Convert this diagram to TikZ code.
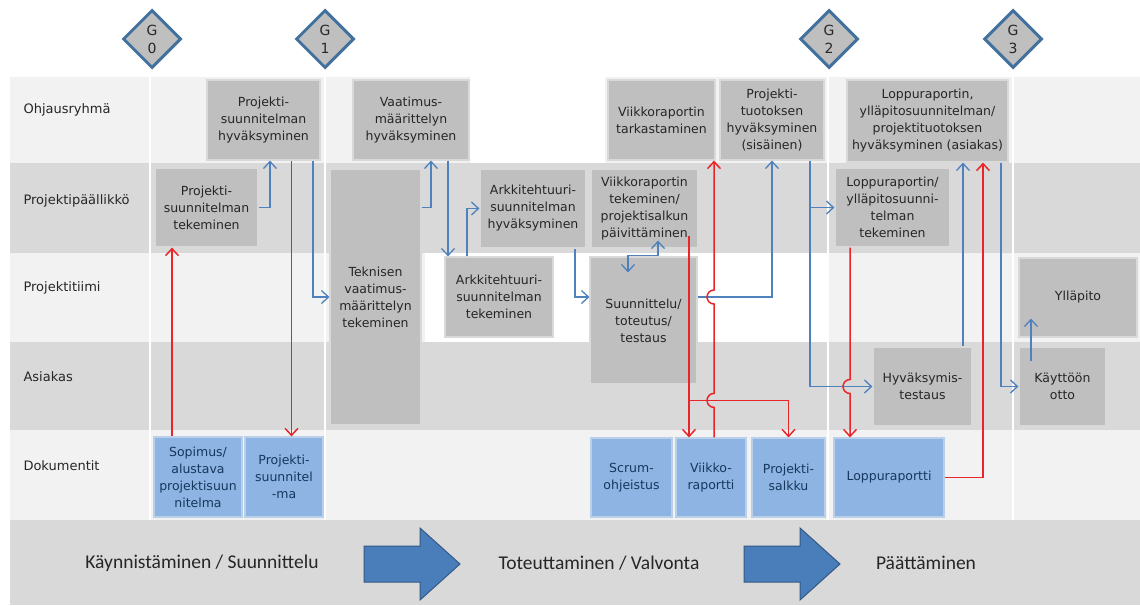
\documentclass[tikz,border=0pt]{standalone}
\usepackage{fontspec}
\setmainfont{DejaVu Sans}
\newfontfamily\phasefont{Carlito}
\usetikzlibrary{positioning,arrows.meta,calc,shapes.geometric}
\definecolor{lanelight}{HTML}{F2F2F2}
\definecolor{lanedark}{HTML}{D9D9D9}
\definecolor{taskgray}{HTML}{BFBFBF}
\definecolor{docblue}{HTML}{8DB4E2}
\definecolor{docink}{HTML}{17375E}
\definecolor{gateblue}{HTML}{41719C}
\definecolor{flowblue}{HTML}{4F81BD}
\definecolor{flowred}{HTML}{E8262A}
\definecolor{phaseblue}{HTML}{4A7EBB}
\definecolor{ink}{HTML}{262626}
\tikzset{
  task/.style={fill=taskgray,draw=taskgray!60!white,line width=1.2pt,inner sep=1pt,align=center,text=ink,font=\fontsize{12.5}{17}\selectfont},
  docbox/.style={task,fill=docblue,draw=docblue!55!lanelight,text=docink},
  gate/.style={diamond,fill=taskgray,draw=gateblue,line width=3pt,minimum size=58pt,inner sep=0pt,align=center,font=\fontsize{14}{18}\selectfont,text=ink},
  lanelabel/.style={anchor=west,text=ink,font=\fontsize{13}{15}\selectfont},
  flowb/.style={draw=flowblue,line width=1.3pt,-{Straight Barb[length=7pt,width=13pt]}},
  flowboth/.style={flowb,{Straight Barb[length=7pt,width=13pt]}-{Straight Barb[length=7pt,width=13pt]}},
  flowr/.style={draw=flowred,line width=1.5pt,-{Straight Barb[length=7pt,width=13pt]}},
  phasearrow/.style={fill=phaseblue,draw=phaseblue!70!black,line width=1pt},
  phaselabel/.style={font=\phasefont\fontsize{19.5}{22}\selectfont,text=ink}
}

\begin{document}
\begin{tikzpicture}[x=1pt,y=1pt]
\useasboundingbox (0,0) rectangle (1140,-605);
% lanes
\fill[lanelight] (10,-77) rectangle (1140,-163);
\fill[lanedark] (10,-163) rectangle (1140,-253);
\fill[lanelight] (10,-253) rectangle (1140,-342);
\fill[lanedark] (10,-342) rectangle (1140,-430);
\fill[lanelight] (10,-430) rectangle (1140,-520);
\fill[lanedark] (10,-520) rectangle (1140,-605);
\fill[white] (470,-77) rectangle (605,-163);
\fill[white] (425,-253) rectangle (828,-342);
\foreach \x in {150,325,828,1013}
  \draw[white,line width=2pt] (\x,-77) -- (\x,-520);

\node[lanelabel] (lohj) at (20,-110) {Ohjausryhmä};
\node[lanelabel] (lpp) at (20,-201) {Projektipäällikkö};
\node[lanelabel] (ltiimi) at (20,-288) {Projektitiimi};
\node[lanelabel] (lasiakas) at (20,-377) {Asiakas};
\node[lanelabel] (ldok) at (20,-466) {Dokumentit};

% gates
\node[gate] (g0) at (152,-39) {G\\0};
\node[gate] (g1) at (325,-39) {G\\1};
\node[gate] (g2) at (829,-39) {G\\2};
\node[gate] (g3) at (1013,-39) {G\\3};

% Ohjausryhma
\node[task,minimum width=113pt,minimum height=80pt] (phyv) at (263.5,-120) {Projekti-\\suunnitelman\\hyväksyminen};
\node[task,minimum width=116pt,minimum height=80pt] (vhyv) at (411,-120) {Vaatimus-\\määrittelyn\\hyväksyminen};
\node[task,minimum width=107pt,minimum height=80pt] (vtark) at (661.5,-120) {Viikkoraportin\\tarkastaminen};
\node[task,minimum width=104pt,minimum height=80pt] (pthyv) at (772,-120) {Projekti-\\tuotoksen\\hyväksyminen\\(sisäinen)};
\node[task,minimum width=161pt,minimum height=82pt] (lhyv) at (927.5,-121) {Loppuraportin,\\ylläpitosuunnitelman/\\projektituotoksen\\hyväksyminen (asiakas)};

% Projektipaallikko
\node[task,minimum width=103pt,minimum height=79pt] (ptek) at (206.5,-207.5) {Projekti-\\suunnitelman\\tekeminen};
\node[task,minimum width=106pt,minimum height=79pt] (ahyv) at (533,-208.5) {Arkkitehtuuri-\\suunnitelman\\hyväksyminen};
\node[task,minimum width=107pt,minimum height=79pt] (vtek) at (644.5,-208.5) {Viikkoraportin\\tekeminen/\\projektisalkun\\päivittäminen};
\node[task,minimum width=115pt,minimum height=79pt] (ltek) at (892.5,-207.5) {Loppuraportin/\\ylläpitosuunni-\\telman\\tekeminen};
\node[task,minimum width=91pt,minimum height=256pt] (tvm) at (375.5,-297) {Teknisen\\vaatimus-\\määrittelyn\\tekeminen};

% Projektitiimi
\node[task,minimum width=108pt,minimum height=80pt] (atek) at (499,-297) {Arkkitehtuuri-\\suunnitelman\\tekeminen};
\node[task,minimum width=107pt,minimum height=127pt] (stt) at (643.5,-320.5) {Suunnittelu/\\toteutus/\\testaus};
\node[task,minimum width=118pt,minimum height=79pt] (yp) at (1078,-297.5) {Ylläpito};

% Asiakas
\node[task,minimum width=99pt,minimum height=79pt] (htest) at (922.5,-386.5) {Hyväksymis-\\testaus};
\node[task,minimum width=87pt,minimum height=79pt] (kotto) at (1062.5,-386.5) {Käyttöön\\otto};

% Dokumentit
\node[docbox,minimum width=88pt,minimum height=80pt] (sop) at (198,-477) {Sopimus/\\alustava\\projektisuun\\nitelma};
\node[docbox,minimum width=78pt,minimum height=80pt] (psd) at (284,-477) {Projekti-\\suunnitel\\-ma};
\node[docbox,minimum width=81pt,minimum height=79pt] (scrum) at (631.5,-477.5) {Scrum-\\ohjeistus};
\node[docbox,minimum width=70pt,minimum height=79pt] (vrap) at (711,-477.5) {Viikko-\\raportti};
\node[docbox,minimum width=73pt,minimum height=79pt] (psalk) at (788.5,-477.5) {Projekti-\\salkku};
\node[docbox,minimum width=110pt,minimum height=79pt] (lrap) at (889,-477.5) {Loppuraportti};

% phases
\filldraw[phasearrow] (364,-546) -- (420,-546) -- (420,-528) -- (460,-564) -- (420,-600) -- (420,-582) -- (364,-582) -- cycle;
\filldraw[phasearrow] (744,-546) -- (800,-546) -- (800,-528) -- (840,-564) -- (800,-600) -- (800,-582) -- (744,-582) -- cycle;
\node[phaselabel] (ph1) at (202,-563) {Käynnistäminen / Suunnittelu};
\node[phaselabel] (ph2) at (599,-563) {Toteuttaminen / Valvonta};
\node[phaselabel] (ph3) at (926,-563) {Päättäminen};

% blue flows
\draw[flowb] (ptek.east) -| ([xshift=6.5pt]phyv.south);
\draw[flowb] ([xshift=49.5pt]phyv.south) |- (tvm.west);
\draw[flowb] (tvm.east |- ptek.east) -| ([xshift=20pt]vhyv.south);
\draw[flowb] ([xshift=37pt]vhyv.south) -- ([xshift=37pt]vhyv.south |- atek.north);
\draw[flowb] ([xshift=-32pt]atek.north) |- (ahyv.west);
\draw[flowb] ([xshift=42pt]ahyv.south) |- (stt.west |- atek.east);
\draw[flowboth] ([xshift=13.5pt,yshift=8pt]vtek.south) -- ++(0,-15) -| ([xshift=-15.5pt,yshift=-16pt]stt.north);
\draw[flowb] (stt.east |- atek.east) -| (pthyv.south);
\draw[flowb] ([xshift=38pt]pthyv.south) |- (htest.west);
\draw[flowb] ([xshift=38pt]pthyv.south |- ltek.west) -- (ltek.west);
\draw[flowb] ([xshift=40.5pt]htest.north) -- ([xshift=40.5pt]htest.north |- lhyv.south);
\draw[flowb] ([xshift=73.5pt]lhyv.south) |- (kotto.west);
\draw[flowb] ([xshift=-31.5pt,yshift=-15pt]kotto.north) -- ([xshift=-47pt,yshift=19pt]yp.south);

% red flows
\draw[flowr] ([xshift=-26pt]sop.north) -- ([xshift=-26pt]sop.north |- ptek.south);
\draw[flowr] ([xshift=28pt]phyv.south) -- ([xshift=28pt]phyv.south |- psd.north);
\draw[flowr] ([xshift=44.5pt,yshift=13pt]vtek.south) coordinate (vt) -- (vt |- vrap.north);
\coordinate (branch) at ($(vt |- vrap.north)+(0,37)$);
\draw[flowr] (branch) -| (psalk.north);
\draw[flowr] ([xshift=3pt]vrap.north) coordinate (r4) -- ($(r4 |- branch)+(0,-7)$)
  arc[start angle=-90,end angle=-270,radius=7] -- ($(r4 |- atek.east)+(0,-7)$)
  arc[start angle=-90,end angle=-270,radius=7] -- (r4 |- vtark.south);
\draw[flowr] ([xshift=-42.5pt]ltek.south) coordinate (r5) -- ($(r5 |- htest.west)+(0,7)$)
  arc[start angle=90,end angle=270,radius=7] -- (r5 |- lrap.north);
\draw[flowr] (lrap.east) -| ([xshift=55.5pt]lhyv.south);
\end{tikzpicture}
\end{document}
